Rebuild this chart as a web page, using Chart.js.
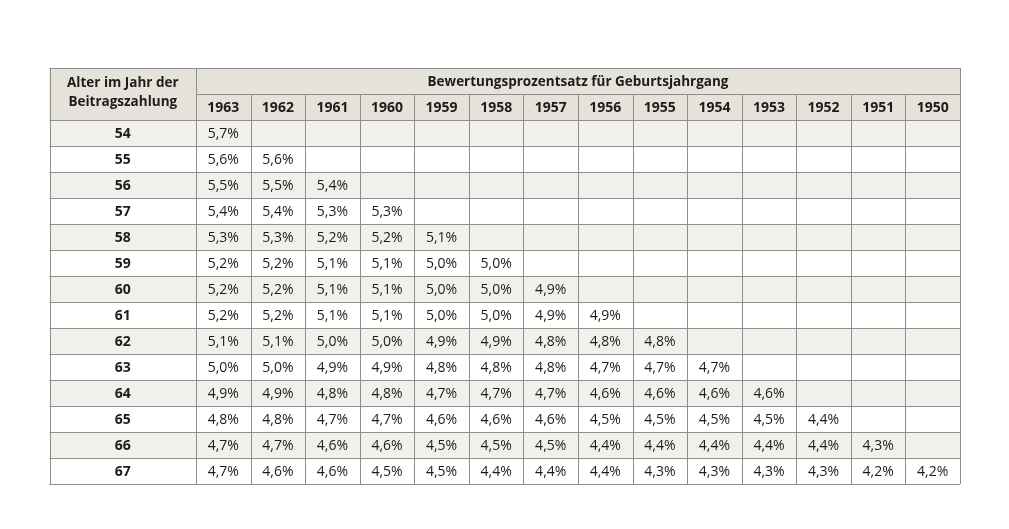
<!DOCTYPE html>
<html>
<head>
<meta charset="utf-8">
<script src="https://cdn.jsdelivr.net/npm/chart.js@4"></script>
<style>
  html, body { margin: 0; padding: 0; background: #fff; }
  #wrap { width: 1009px; height: 529px; position: relative; }
</style>
</head>
<body>
<div id="wrap"><canvas id="table"></canvas></div>
<script>
const ages = [54, 55, 56, 57, 58, 59, 60, 61, 62, 63, 64, 65, 66, 67];
const years = [1963, 1962, 1961, 1960, 1959, 1958, 1957, 1956, 1955, 1954, 1953, 1952, 1951, 1950];
const rowTitle = ["Alter im Jahr der", "Beitragszahlung"];
const groupTitle = "Bewertungsprozentsatz für Geburtsjahrgang";

// one list per age, values for 1963, 1962, ... (empty cells left out)
const rate54 = [5.7];
const rate55 = [5.6, 5.6];
const rate56 = [5.5, 5.5, 5.4];
const rate57 = [5.4, 5.4, 5.3, 5.3];
const rate58 = [5.3, 5.3, 5.2, 5.2, 5.1];
const rate59 = [5.2, 5.2, 5.1, 5.1, 5.0, 5.0];
const rate60 = [5.2, 5.2, 5.1, 5.1, 5.0, 5.0, 4.9];
const rate61 = [5.2, 5.2, 5.1, 5.1, 5.0, 5.0, 4.9, 4.9];
const rate62 = [5.1, 5.1, 5.0, 5.0, 4.9, 4.9, 4.8, 4.8, 4.8];
const rate63 = [5.0, 5.0, 4.9, 4.9, 4.8, 4.8, 4.8, 4.7, 4.7, 4.7];
const rate64 = [4.9, 4.9, 4.8, 4.8, 4.7, 4.7, 4.7, 4.6, 4.6, 4.6, 4.6];
const rate65 = [4.8, 4.8, 4.7, 4.7, 4.6, 4.6, 4.6, 4.5, 4.5, 4.5, 4.5, 4.4];
const rate66 = [4.7, 4.7, 4.6, 4.6, 4.5, 4.5, 4.5, 4.4, 4.4, 4.4, 4.4, 4.4, 4.3];
const rate67 = [4.7, 4.6, 4.6, 4.5, 4.5, 4.4, 4.4, 4.4, 4.3, 4.3, 4.3, 4.3, 4.2, 4.2];
const rates = [rate54, rate55, rate56, rate57, rate58, rate59, rate60, rate61,
  rate62, rate63, rate64, rate65, rate66, rate67];

const FONT = "'Open Sans', 'Noto Sans', sans-serif";
const headBg = "#e5e2da";
const stripeBg = "#f2f0eb";
const lineColor = "#8e8e8e";
const textColor = "#1c1c1c";
const firstColW = 2.685; // width of the age column, in data-column units
const headRows = 2;

const fmt = (v) => v.toFixed(1).replace(".", ",") + "%";

// cell points: x = column centre, y = row centre
const cellPoints = [];
rates.forEach((row, r) => {
  row.forEach((v, c) => {
    cellPoints.push({ x: c + 0.5, y: headRows + r + 0.5, v: v });
  });
});

const tablePlugin = {
  id: "tableGrid",
  beforeDatasetsDraw(chart) {
    const ctx = chart.ctx;
    const sx = chart.scales.x, sy = chart.scales.y;
    const X = (v) => sx.getPixelForValue(v);
    const Y = (v) => sy.getPixelForValue(v);
    const left = X(-firstColW), right = X(years.length);
    const top = Y(0), bottom = Y(headRows + ages.length);

    ctx.save();
    // header background
    ctx.fillStyle = headBg;
    ctx.fillRect(left, top, right - left, Y(headRows) - top);
    // striped rows
    ages.forEach((a, r) => {
      ctx.fillStyle = r % 2 === 0 ? stripeBg : "#ffffff";
      ctx.fillRect(left, Y(headRows + r), right - left, Y(headRows + r + 1) - Y(headRows + r));
    });

    // lines
    ctx.strokeStyle = lineColor;
    ctx.lineWidth = 1;
    const hline = (y, x0, x1) => {
      const p = Math.round(y) + 0.5;
      ctx.beginPath(); ctx.moveTo(x0, p); ctx.lineTo(x1, p); ctx.stroke();
    };
    const vline = (x, y0, y1) => {
      const p = Math.round(x) + 0.5;
      ctx.beginPath(); ctx.moveTo(p, y0); ctx.lineTo(p, y1); ctx.stroke();
    };
    hline(top, left, right);
    hline(Y(1), X(0), right);
    for (let r = 0; r <= ages.length; r++) hline(Y(headRows + r), left, right);
    vline(left, top, bottom);
    vline(X(0), top, bottom);
    for (let c = 1; c < years.length; c++) vline(X(c), Y(1), bottom);
    vline(right, top, bottom);

    // header text
    ctx.fillStyle = textColor;
    ctx.textAlign = "center";
    ctx.textBaseline = "middle";
    ctx.font = "bold 13.5px " + FONT;
    const fx = (left + X(0)) / 2;
    ctx.fillText(rowTitle[0], fx, Y(1) - 11);
    ctx.fillText(rowTitle[1], fx, Y(1) + 8.5);
    ctx.fillText(groupTitle, (X(0) + right) / 2, (top + Y(1)) / 2 + 1.5);
    ctx.font = "bold 14px " + FONT;
    years.forEach((yr, c) => ctx.fillText(String(yr), X(c + 0.5), Y(1.5) + 1));
    ages.forEach((a, r) => ctx.fillText(String(a), fx, Y(headRows + r + 0.5) + 1.5));
    ctx.restore();
  },
  afterDatasetsDraw(chart) {
    const ctx = chart.ctx;
    const meta = chart.getDatasetMeta(0);
    ctx.save();
    ctx.fillStyle = textColor;
    ctx.textAlign = "center";
    ctx.textBaseline = "middle";
    ctx.font = "14px " + FONT;
    meta.data.forEach((pt, i) => {
      ctx.fillText(fmt(cellPoints[i].v), pt.x, pt.y + 1.5);
    });
    ctx.restore();
  }
};

new Chart(document.getElementById("table"), {
  type: "scatter",
  data: {
    datasets: [{
      label: "Bewertungsprozentsatz",
      data: cellPoints,
      pointRadius: 0,
      pointHoverRadius: 0
    }]
  },
  options: {
    responsive: true,
    maintainAspectRatio: false,
    animation: false,
    events: [],
    layout: {
      padding: { left: 49.5, right: 49, top: 68, bottom: 45 }
    },
    scales: {
      x: { type: "linear", min: -firstColW, max: years.length, display: false },
      y: { type: "linear", min: 0, max: headRows + ages.length, reverse: true, display: false }
    },
    plugins: {
      legend: { display: false },
      tooltip: { enabled: false },
      title: { display: false }
    }
  },
  plugins: [tablePlugin]
});
</script>
</body>
</html>
